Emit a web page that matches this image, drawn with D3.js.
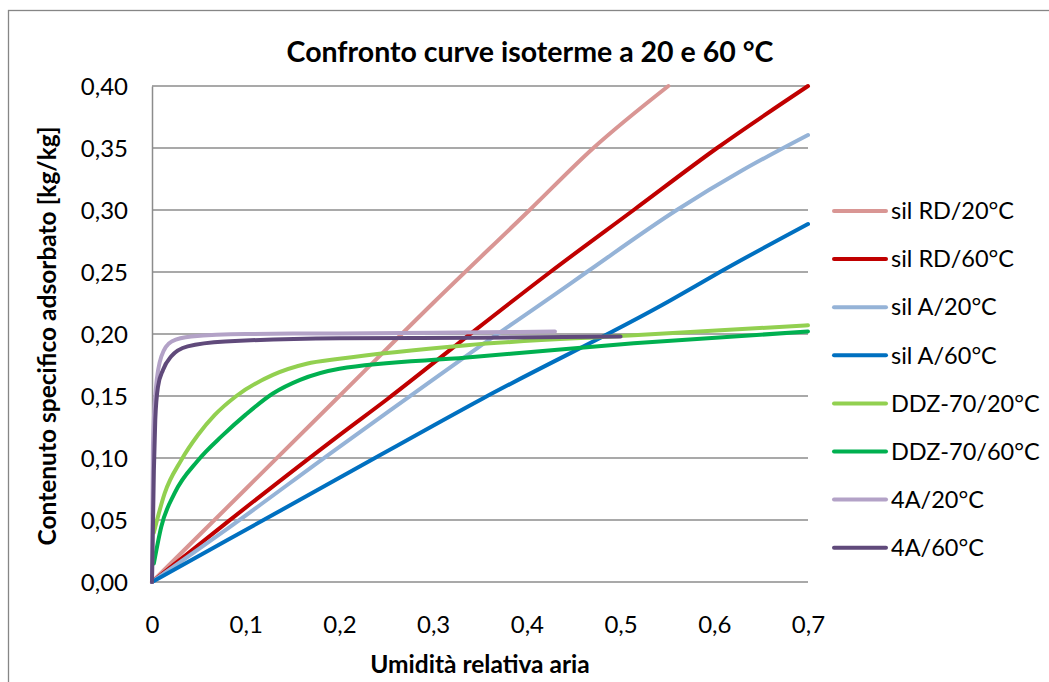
<!DOCTYPE html>
<html>
<head>
<meta charset="utf-8">
<script src="https://cdn.jsdelivr.net/npm/d3@7"></script>
<style>
  body { margin: 0; background: #fff; }
  text { font-family: Lato, "Open Sans", sans-serif; fill: #000; }
</style>
</head>
<body>
<div id="chart"></div>
<script>
// series names + colours
var seriesNames = ["sil RD/20°C", "sil RD/60°C", "sil A/20°C", "sil A/60°C",
                   "DDZ-70/20°C", "DDZ-70/60°C", "4A/20°C", "4A/60°C"];
var seriesColors = ["#D99694", "#C00000", "#95B3D7", "#0070C0",
                    "#92D050", "#00B050", "#B3A2C7", "#604A7B"];

// values (x = umidità relativa, y = kg/kg)
var silRD20x = [0, 0.1, 0.2, 0.3, 0.403, 0.471, 0.551];
var silRD20y = [0, 0.075, 0.150, 0.225, 0.300, 0.350, 0.400];
var silRD60x = [0, 0.081, 0.2, 0.252, 0.327, 0.425, 0.514, 0.603, 0.7];
var silRD60y = [0, 0.0487, 0.1185, 0.148, 0.1925, 0.250, 0.300, 0.350, 0.400];
var silA20x = [0, 0.081, 0.2, 0.272, 0.346, 0.43, 0.464, 0.56, 0.63, 0.7];
var silA20y = [0, 0.0433, 0.109, 0.148, 0.188, 0.232, 0.250, 0.300, 0.332, 0.3605];
var silA60x = [0, 0.081, 0.2, 0.353, 0.553, 0.606, 0.7];
var silA60y = [0, 0.034, 0.084, 0.148, 0.227, 0.250, 0.2887];
var ddz20x = [0.002, 0.0135, 0.031, 0.049, 0.067, 0.09, 0.129, 0.165, 0.2, 0.336, 0.514, 0.7];
var ddz20y = [0.040, 0.0715, 0.098, 0.1185, 0.1347, 0.150, 0.167, 0.176, 0.180, 0.191, 0.199, 0.207];
var ddz60x = [0.002, 0.0099, 0.024, 0.049, 0.075, 0.1, 0.129, 0.158, 0.2, 0.336, 0.514, 0.7];
var ddz60y = [0.015, 0.0446, 0.0715, 0.098, 0.118, 0.135, 0.152, 0.163, 0.172, 0.181, 0.1925, 0.202];
var a420x = [0, 0.001, 0.004, 0.01, 0.021, 0.042, 0.1, 0.2, 0.3, 0.43];
var a420y = [0, 0.110, 0.155, 0.182, 0.194, 0.198, 0.200, 0.2005, 0.201, 0.202];
var a460x = [0, 0.002, 0.0035, 0.0064, 0.0117, 0.0206, 0.038, 0.078, 0.2, 0.35, 0.5];
var a460y = [0, 0.090, 0.131, 0.1575, 0.171, 0.182, 0.190, 0.194, 0.1965, 0.197, 0.198];

var xs = [silRD20x, silRD60x, silA20x, silA60x, ddz20x, ddz60x, a420x, a460x];
var ys = [silRD20y, silRD60y, silA20y, silA60y, ddz20y, ddz60y, a420y, a460y];

var xTicks = [0, 0.1, 0.2, 0.3, 0.4, 0.5, 0.6, 0.7];
var yTicks = [0, 0.05, 0.10, 0.15, 0.20, 0.25, 0.30, 0.35, 0.40];

var W = 1049, H = 682,
    plot = { left: 152, right: 808, top: 86, bottom: 582 };

var svg = d3.select("#chart").append("svg")
    .attr("width", W).attr("height", H);

// outer frame
svg.append("rect")
    .attr("x", 8.5).attr("y", 10.5)
    .attr("width", W + 10).attr("height", H + 10)
    .attr("fill", "#fff").attr("stroke", "#868686").attr("stroke-width", 1.3);

var x = d3.scaleLinear().domain([0, 0.7]).range([plot.left, plot.right]);
var y = d3.scaleLinear().domain([0, 0.4]).range([plot.bottom, plot.top]);

// gridlines
svg.append("g")
    .selectAll("line").data(yTicks).enter().append("line")
    .attr("x1", plot.left).attr("x2", plot.right)
    .attr("y1", function (d) { return y(d); })
    .attr("y2", function (d) { return y(d); })
    .attr("stroke", "#8c8c8c").attr("stroke-width", 1.5);

// y axis
var yAxis = d3.axisLeft(y).tickValues(yTicks).tickSize(0).tickPadding(24)
    .tickFormat(function (d) { return d3.format(".2f")(d).replace(".", ","); });
var yg = svg.append("g").attr("transform", "translate(" + plot.left + ",0)").call(yAxis);
yg.select(".domain").attr("stroke", "#8c8c8c").attr("stroke-width", 1.5);
yg.selectAll("text").style("font-size", "24px").attr("dy", "0.35em");

// x axis
var xAxis = d3.axisBottom(x).tickValues(xTicks).tickSize(0).tickPadding(34)
    .tickFormat(function (d) { return d === 0 ? "0" : String(d).replace(".", ","); });
var xg = svg.append("g").attr("transform", "translate(0," + plot.bottom + ")").call(xAxis);
xg.select(".domain").remove();
xg.selectAll("text").style("font-size", "24px");

// series
var line = d3.line()
    .x(function (d) { return x(d[0]); })
    .y(function (d) { return y(d[1]); })
    .curve(d3.curveMonotoneX);

var seriesData = seriesNames.map(function (name, i) {
    return { name: name, color: seriesColors[i],
             pts: xs[i].map(function (v, j) { return [v, ys[i][j]]; }) };
});

svg.append("g").selectAll("path").data(seriesData).enter().append("path")
    .attr("d", function (d) { return line(d.pts); })
    .attr("fill", "none")
    .attr("stroke", function (d) { return d.color; })
    .attr("stroke-width", 4)
    .attr("stroke-linecap", "round")
    .attr("stroke-linejoin", "round");

// legend
var legend = svg.append("g").selectAll("g").data(seriesData).enter().append("g")
    .attr("transform", function (d, i) { return "translate(832," + (211 + i * 48.1) + ")"; });
legend.append("line")
    .attr("x1", 2).attr("x2", 54)
    .attr("stroke", function (d) { return d.color; })
    .attr("stroke-width", 4).attr("stroke-linecap", "round");
legend.append("text")
    .attr("x", 59).attr("dy", "0.35em")
    .style("font-size", "23.5px")
    .text(function (d) { return d.name; });

// titles
svg.append("text")
    .attr("x", 530).attr("y", 62).attr("text-anchor", "middle")
    .style("font-size", "28.5px").style("font-weight", "bold")
    .text("Confronto curve isoterme a 20 e 60 °C");

svg.append("text")
    .attr("x", 480).attr("y", 673).attr("text-anchor", "middle")
    .style("font-size", "24.5px").style("font-weight", "bold")
    .text("Umidità relativa aria");

svg.append("text")
    .attr("transform", "translate(56,336) rotate(-90)")
    .attr("text-anchor", "middle")
    .style("font-size", "24.5px").style("font-weight", "bold")
    .text("Contenuto specifico adsorbato [kg/kg]");
</script>
</body>
</html>
